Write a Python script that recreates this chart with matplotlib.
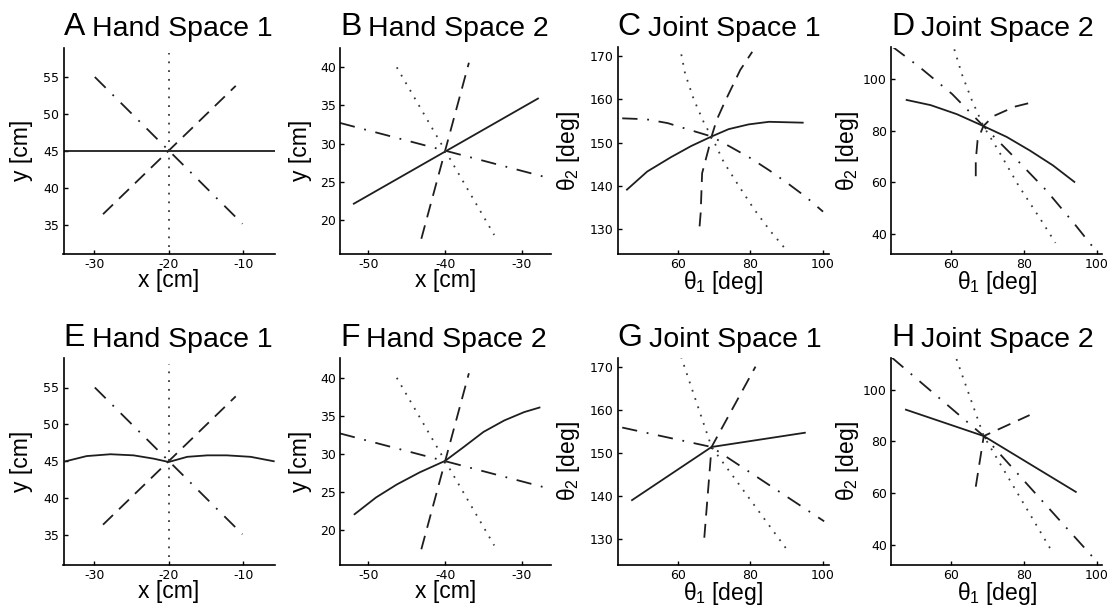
import matplotlib.pyplot as plt

plt.rcParams['font.family'] = ['Liberation Sans', 'DejaVu Sans']
plt.rcParams['mathtext.fontset'] = 'custom'
plt.rcParams['mathtext.rm'] = 'Liberation Sans'
plt.rcParams['mathtext.it'] = 'Liberation Sans'
plt.rcParams['lines.scale_dashes'] = False

# Hand Space 1 (panels A, E): (x, y) points in cm
hs1_solid_top = [(-34.1, 45.0), (-5.8, 45.0)]
hs1_solid_bot = [(-33.8, 45.0), (-31.0, 45.7), (-27.8, 45.95), (-24.7, 45.8), (-22.0, 45.35),
                 (-20.0, 44.9), (-17.5, 45.6), (-14.8, 45.8), (-12.2, 45.8), (-9.0, 45.6), (-5.9, 45.0)]
hs1_dash = [(-28.8, 36.4), (-11.0, 53.8)]
hs1_dashdot = [(-29.9, 55.0), (-10.1, 35.1)]
hs1_dot = [(-20.0, 32.0), (-20.0, 58.2)]

# Hand Space 2 (panels B, F)
hs2_solid_top = [(-51.9, 22.1), (-27.9, 35.9)]
hs2_solid_bot = [(-51.8, 22.1), (-49.0, 24.3), (-46.3, 26.0), (-43.3, 27.6), (-40.0, 29.1),
                 (-37.6, 30.9), (-35.0, 32.9), (-32.3, 34.4), (-29.7, 35.5), (-27.7, 36.1)]
hs2_dash = [(-43.1, 17.5), (-36.9, 40.6)]
hs2_dashdot = [(-53.7, 32.7), (-26.2, 25.4)]
hs2_dot = [(-46.3, 40.0), (-33.6, 18.0)]

# Joint Space 1 (panels C, G): (theta1, theta2) in deg
js1_solid_top = [(46.0, 139.1), (51.6, 143.3), (58.1, 146.6), (63.7, 149.2), (69.3, 151.4),
                 (74.0, 153.1), (79.5, 154.2), (85.1, 154.8), (94.4, 154.6)]
js1_dash_top = [(66.0, 130.6), (66.3, 133.7), (66.7, 142.9), (68.4, 148.3), (69.3, 151.4),
                (70.7, 155.2), (73.0, 159.5), (77.2, 166.8), (80.5, 171.0)]
js1_dashdot_top = [(44.7, 155.6), (51.2, 155.4), (57.2, 154.5), (62.6, 153.1), (69.3, 151.4),
                   (74.7, 148.9), (80.0, 146.4), (85.3, 143.5), (90.2, 140.6), (95.3, 137.4), (100.0, 134.0)]
js1_dot_top = [(60.5, 172.4), (62.0, 166.0), (64.4, 160.0), (67.3, 154.4), (69.3, 151.4),
               (72.7, 145.4), (76.7, 140.1), (80.9, 134.7), (85.4, 129.6), (90.2, 124.8)]
js1_solid_bot = [(47.4, 139.1), (69.3, 151.4), (95.0, 154.7)]
js1_dash_bot = [(67.3, 130.4), (69.3, 151.4), (81.4, 170.0)]
js1_dashdot_bot = [(44.7, 155.9), (69.3, 151.4), (100.3, 134.2)]
js1_dot_bot = [(60.9, 172.3), (69.3, 151.4), (90.7, 126.9)]

# Joint Space 2 (panels D, H)
js2_solid_top = [(47.8, 91.9), (54.4, 89.9), (61.6, 86.4), (68.9, 81.8), (75.3, 77.6),
                 (81.6, 72.4), (88.0, 66.6), (93.9, 60.2)]
js2_dash_top = [(66.8, 62.4), (66.8, 68.6), (67.3, 76.3), (68.9, 81.8), (71.6, 85.6),
                (77.5, 89.3), (81.2, 90.6)]
js2_dashdot_top = [(43.9, 112.5), (51.2, 104.8), (60.3, 94.2), (68.9, 81.8), (77.5, 69.6),
                   (86.2, 56.9), (93.9, 44.0), (99.4, 34.3)]
js2_dot_top = [(60.9, 111.5), (63.0, 101.8), (65.7, 91.9), (68.9, 81.8), (73.0, 72.4),
               (78.5, 58.9), (84.8, 45.3), (88.7, 36.6)]
js2_solid_bot = [(47.6, 92.2), (69.0, 82.0), (94.3, 60.4)]
js2_dash_bot = [(66.8, 62.4), (69.0, 82.0), (81.6, 90.1)]
js2_dashdot_bot = [(43.7, 112.4), (69.0, 82.0), (99.4, 34.5)]
js2_dot_bot = [(61.5, 111.8), (69.0, 82.0), (88.1, 36.5)]

hs1_xticks = [-30, -20, -10]
hs1_yticks = [35, 40, 45, 50, 55]
hs2_xticks = [-50, -40, -30]
hs2_yticks = [20, 25, 30, 35, 40]
js_xticks = [60, 80, 100]
js1_yticks = [130, 140, 150, 160, 170]
js2_yticks = [40, 60, 80, 100]

styles = {
    'solid': dict(ls='-', color='#1e1e1e'),
    'dash': dict(ls=(0, (10, 6)), color='#1e1e1e'),
    'dashdot': dict(ls=(0, (11, 7, 1.3, 7)), color='#1e1e1e'),
    'dot': dict(ls=(0, (1.3, 5)), color='#3a3a3a'),
}

fig = plt.figure(figsize=(11.14, 6.09), dpi=100)
W, H = 1114, 609
lefts = [63.5, 340, 617.5, 891]
tops = [47.5, 358]
aw, ah = 211, 206.5

panels = [
    # row, col, letter, title, lines, xlim, ylim, xticks, yticks, xlabel, ylabel, ylabel x
    (0, 0, 'A', 'Hand Space 1', [hs1_solid_top, hs1_dash, hs1_dashdot, hs1_dot],
     (-34.1, -5.8), (31.0, 59.0), hs1_xticks, hs1_yticks, 'x [cm]', 'y [cm]', -0.145),
    (0, 1, 'B', 'Hand Space 2', [hs2_solid_top, hs2_dash, hs2_dashdot, hs2_dot],
     (-53.7, -26.2), (15.5, 42.6), hs2_xticks, hs2_yticks, 'x [cm]', 'y [cm]', -0.135),
    (0, 2, 'C', 'Joint Space 1', [js1_solid_top, js1_dash_top, js1_dashdot_top, js1_dot_top],
     (43.4, 101.5), (124.2, 172.0), js_xticks, js1_yticks, r'$\theta_1$ [deg]', r'$\theta_2$ [deg]', -0.17),
    (0, 3, 'D', 'Joint Space 2', [js2_solid_top, js2_dash_top, js2_dashdot_top, js2_dot_top],
     (43.5, 101.5), (32.3, 112.2), js_xticks, js2_yticks, r'$\theta_1$ [deg]', r'$\theta_2$ [deg]', -0.14),
    (1, 0, 'E', 'Hand Space 1', [hs1_solid_bot, hs1_dash, hs1_dashdot, hs1_dot],
     (-34.1, -5.8), (31.0, 59.0), hs1_xticks, hs1_yticks, 'x [cm]', 'y [cm]', -0.145),
    (1, 1, 'F', 'Hand Space 2', [hs2_solid_bot, hs2_dash, hs2_dashdot, hs2_dot],
     (-53.7, -26.2), (15.5, 42.6), hs2_xticks, hs2_yticks, 'x [cm]', 'y [cm]', -0.135),
    (1, 2, 'G', 'Joint Space 1', [js1_solid_bot, js1_dash_bot, js1_dashdot_bot, js1_dot_bot],
     (43.4, 101.5), (124.2, 172.0), js_xticks, js1_yticks, r'$\theta_1$ [deg]', r'$\theta_2$ [deg]', -0.17),
    (1, 3, 'H', 'Joint Space 2', [js2_solid_bot, js2_dash_bot, js2_dashdot_bot, js2_dot_bot],
     (43.5, 101.5), (32.3, 112.2), js_xticks, js2_yticks, r'$\theta_1$ [deg]', r'$\theta_2$ [deg]', -0.14),
]

for row, col, letter, title, lines, xlim, ylim, xt, yt, xl, yl, ylx in panels:
    ax = fig.add_axes([lefts[col] / W, 1 - (tops[row] + ah) / H, aw / W, ah / H])
    for pts, key in zip(lines, ['solid', 'dash', 'dashdot', 'dot']):
        xs = [p[0] for p in pts]
        ys = [p[1] for p in pts]
        ax.plot(xs, ys, lw=1.3, **styles[key])
    ax.set_xlim(*xlim)
    ax.set_ylim(*ylim)
    ax.set_xticks(xt)
    ax.set_yticks(yt)
    ax.set_xticklabels([str(v) for v in xt], fontfamily='DejaVu Sans')
    ax.set_yticklabels([str(v) for v in yt], fontfamily='DejaVu Sans')
    ax.tick_params(direction='in', length=3, width=1, labelsize=9, pad=3)
    for s in ['top', 'right']:
        ax.spines[s].set_visible(False)
    for s in ['left', 'bottom']:
        ax.spines[s].set_linewidth(1.2)
    ax.set_xlabel(xl, fontsize=16.5)
    ax.set_ylabel(yl, fontsize=16.5)
    ax.xaxis.set_label_coords(0.5, -0.075)
    ax.yaxis.set_label_coords(ylx, 0.5)
    t = ax.text(0.0, 1.06, letter, fontsize=23, transform=ax.transAxes, va='baseline', ha='left')
    ax.annotate(title, xy=(1, 0), xycoords=t, xytext=(5, 0), textcoords='offset points',
                fontsize=20.5, va='bottom', ha='left')

fig.savefig('out.png', dpi=100)
